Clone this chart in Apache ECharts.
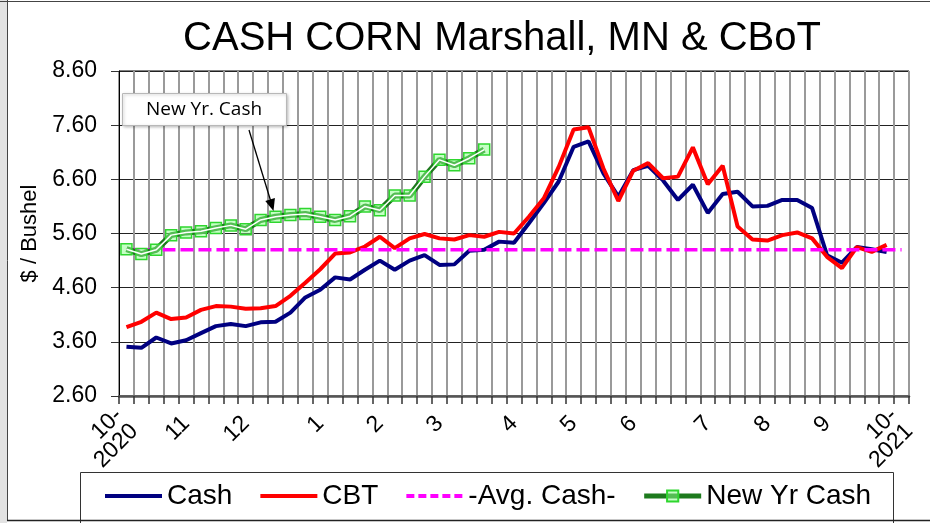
<!DOCTYPE html>
<html>
<head>
<meta charset="utf-8">
<script src="https://cdn.jsdelivr.net/npm/echarts@6/dist/echarts.min.js"></script>
<style>
  html, body { margin: 0; padding: 0; background: #fff; }
  #chart { width: 930px; height: 523px; }
</style>
</head>
<body>
<div id="chart"></div>
<script>
// weekly categories, Oct 2020 - Oct 2021
const weeks = [
  '10/5/20', '10/12/20', '10/19/20', '10/26/20', '11/2/20', '11/9/20', '11/16/20', '11/23/20',
  '11/30/20', '12/7/20', '12/14/20', '12/21/20', '12/28/20', '1/4/21', '1/11/21', '1/18/21',
  '1/25/21', '2/1/21', '2/8/21', '2/15/21', '2/22/21', '3/1/21', '3/8/21', '3/15/21',
  '3/22/21', '3/29/21', '4/5/21', '4/12/21', '4/19/21', '4/26/21', '5/3/21', '5/10/21',
  '5/17/21', '5/24/21', '5/31/21', '6/7/21', '6/14/21', '6/21/21', '6/28/21', '7/5/21',
  '7/12/21', '7/19/21', '7/26/21', '8/2/21', '8/9/21', '8/16/21', '8/23/21', '8/30/21',
  '9/6/21', '9/13/21', '9/20/21', '9/27/21', '10/4/21'
]

// month tick labels and the week they sit on
const tickIdx = [0, 4, 8, 13, 17, 21, 26, 30, 34, 39, 43, 47, 52]
const tickText = ['10-\n2020', '11', '12', '1', '2', '3', '4', '5', '6', '7', '8', '9', '10-\n2021']

const cash = [
  3.51, 3.49, 3.68, 3.57, 3.63, 3.76, 3.89, 3.93, 3.89, 3.96, 3.97, 4.14, 4.42,
  4.56, 4.79, 4.75, 4.93, 5.10, 4.93, 5.10, 5.20, 5.02, 5.03, 5.28, 5.30, 5.45,
  5.43, 5.79, 6.16, 6.56, 7.20, 7.30, 6.71, 6.28, 6.77, 6.85, 6.58, 6.22, 6.50,
  5.98, 6.33, 6.37, 6.10, 6.11, 6.22, 6.22, 6.07, 5.20, 5.06, 5.35, 5.31, 5.26
]

const cbt = [
  3.87, 3.97, 4.14, 4.02, 4.05, 4.19, 4.26, 4.25, 4.21, 4.22, 4.26, 4.45, 4.69,
  4.94, 5.23, 5.25, 5.36, 5.54, 5.33, 5.51, 5.59, 5.51, 5.49, 5.57, 5.54, 5.63,
  5.60, 5.91, 6.25, 6.83, 7.52, 7.56, 6.80, 6.20, 6.76, 6.90, 6.62, 6.65, 7.19,
  6.51, 6.85, 5.73, 5.49, 5.47, 5.57, 5.62, 5.51, 5.17, 4.96, 5.35, 5.26, 5.39
]

const newYrCash = [
  5.31, 5.22, 5.30, 5.57, 5.62, 5.64, 5.70, 5.75, 5.68, 5.85, 5.91, 5.94, 5.96,
  5.91, 5.85, 5.92, 6.10, 6.03, 6.30, 6.30, 6.65, 6.96, 6.86, 6.99, 7.15
]

const avgCash = 5.30

const yMin = 2.6
const yMax = 8.6
const yStep = 1

const font = '"Liberation Sans", Arial, sans-serif'

// legend entries without a dot on the line
const noDot = { color: 'rgba(0,0,0,0)', borderColor: 'rgba(0,0,0,0)', opacity: 0 }

const chart = echarts.init(document.getElementById('chart'))

const option = {
  animation: false,
  backgroundColor: '#fff',
  textStyle: { fontFamily: font, color: '#000' },
  title: {
    text: 'CASH CORN Marshall, MN & CBoT',
    left: 497,
    top: 14,
    textAlign: 'center',
    textStyle: { fontFamily: font, fontSize: 40, fontWeight: 'normal', color: '#000' }
  },
  grid: {
    left: 119,
    right: 21,
    top: 71,
    bottom: 127,
    show: true,
    borderColor: '#000',
    borderWidth: 1,
    backgroundColor: '#fff'
  },
  legend: {
    data: [
      { name: 'Cash', itemStyle: noDot, lineStyle: { width: 4 } },
      { name: 'CBT', itemStyle: noDot, lineStyle: { width: 4 } },
      { name: '-Avg. Cash-', itemStyle: noDot, lineStyle: { width: 4, type: [8, 4] } },
      { name: 'New Yr Cash', lineStyle: { width: 5 } }
    ],
    left: 103,
    top: 482,
    padding: 0,
    itemWidth: 57,
    itemHeight: 14,
    itemGap: 26,
    textStyle: { fontFamily: font, fontSize: 28, color: '#000', padding: [0, 0, 0, 0] }
  },
  xAxis: {
    type: 'category',
    data: weeks,
    boundaryGap: true,
    axisLine: { lineStyle: { color: '#555', width: 2.5 } },
    axisTick: { show: true, interval: 0, length: 8, lineStyle: { color: '#333', width: 1.5 } },
    splitLine: { show: true, interval: 0, lineStyle: { color: '#9a9a9a', width: 2 } },
    axisLabel: {
      interval: 0,
      rotate: 45,
      margin: 24,
      fontFamily: font,
      fontSize: 23,
      lineHeight: 22,
      color: '#000',
      formatter: (val, idx) => {
        const k = tickIdx.indexOf(idx)
        return k >= 0 ? tickText[k] : ''
      }
    }
  },
  yAxis: {
    type: 'value',
    min: yMin,
    max: yMax,
    interval: yStep,
    name: '$ / Bushel',
    nameLocation: 'middle',
    nameGap: 76,
    nameRotate: 90,
    nameTextStyle: { fontFamily: font, fontSize: 22, color: '#000' },
    axisLine: { show: true, lineStyle: { color: '#000', width: 1 } },
    axisTick: { show: true, length: 8, lineStyle: { color: '#333', width: 1 } },
    splitLine: { show: true, lineStyle: { color: '#222', width: 1 } },
    axisLabel: {
      margin: 22,
      fontFamily: font,
      fontSize: 23,
      color: '#000',
      formatter: v => v.toFixed(2)
    }
  },
  series: [
    {
      name: 'Cash',
      type: 'line',
      data: cash,
      symbol: 'none',
      lineStyle: { color: '#000080', width: 4 },
      itemStyle: { color: '#000080' },
      z: 3
    },
    {
      name: 'CBT',
      type: 'line',
      data: cbt,
      symbol: 'none',
      lineStyle: { color: '#ff0000', width: 4 },
      itemStyle: { color: '#ff0000' },
      z: 4
    },
    {
      name: '-Avg. Cash-',
      type: 'line',
      data: weeks.map(() => avgCash),
      symbol: 'none',
      lineStyle: { color: '#ff00ff', width: 3.5, type: [13, 5] },
      itemStyle: { color: '#ff00ff' },
      z: 5
    },
    {
      name: 'New Yr Cash',
      type: 'line',
      data: newYrCash,
      symbol: 'rect',
      symbolSize: 11,
      showAllSymbol: true,
      lineStyle: { color: '#1d7a1d', width: 6 },
      itemStyle: { color: 'rgba(140,255,140,0.5)', borderColor: '#2fd62f', borderWidth: 1.5 },
      z: 6
    },
    {
      // white core of the double line
      name: 'newYrCore',
      type: 'line',
      data: newYrCash,
      symbol: 'none',
      silent: true,
      lineStyle: { color: '#fff', width: 1.5 },
      z: 7
    }
  ],
  graphic: [
    // spreadsheet strip and chart frame
    { type: 'rect', shape: { x: 0, y: 0, width: 7, height: 523 }, style: { fill: '#e2e2e2' }, z: 100 },
    { type: 'line', shape: { x1: 7.5, y1: 0, x2: 7.5, y2: 521 }, style: { stroke: '#444', lineWidth: 1 }, z: 100 },
    { type: 'line', shape: { x1: 0, y1: 1.5, x2: 930, y2: 1.5 }, style: { stroke: '#444', lineWidth: 1 }, z: 100 },
    { type: 'line', shape: { x1: 7, y1: 520.5, x2: 930, y2: 520.5 }, style: { stroke: '#222', lineWidth: 1.5 }, z: 100 },
    // legend box
    { type: 'rect', shape: { x: 80.5, y: 472.5, width: 813, height: 60 }, style: { fill: '#fff', stroke: '#333', lineWidth: 1 }, z: -1 },
    // callout
    {
      type: 'rect',
      shape: { x: 122.5, y: 93.5, width: 164, height: 32 },
      style: { fill: '#fff', stroke: '#b8b8b8', lineWidth: 1, shadowBlur: 3, shadowColor: 'rgba(0,0,0,0.25)', shadowOffsetX: 1, shadowOffsetY: 1 },
      z: 50
    },
    {
      type: 'text',
      x: 204, y: 110,
      style: { text: 'New Yr. Cash', fontFamily: '"Open Sans", sans-serif', fontSize: 19, fill: '#000', align: 'center', verticalAlign: 'middle' },
      z: 51
    },
    { type: 'line', shape: { x1: 249, y1: 130, x2: 271, y2: 202 }, style: { stroke: '#000', lineWidth: 1.3 }, z: 50 },
    { type: 'polygon', shape: { points: [[273.5, 211], [265.3, 200.9], [274.9, 198.1]] }, style: { fill: '#000' }, z: 50 }
  ]
}

chart.setOption(option)
</script>
</body>
</html>
